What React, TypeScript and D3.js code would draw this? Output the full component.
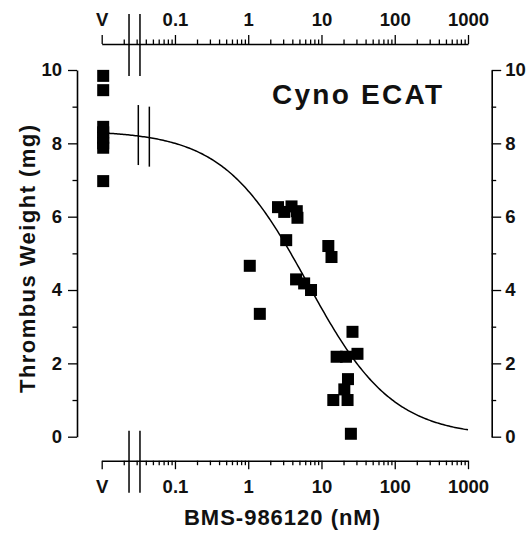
import * as d3 from 'd3';
import { useRef, useEffect } from 'react';

// vehicle group (plotted at the "V" position)
const vehicleWeights = [9.84, 9.45, 8.45, 8.3, 8.15, 8.0, 7.88, 6.97];

// treated animals: plasma concentration (nM) and thrombus weight (mg)
const doses = [2.55, 3.1, 3.9, 4.6, 4.7, 3.3, 1.05, 1.44, 4.5, 5.8, 7.2, 12.4, 13.7, 26.5, 16.1, 21.6, 31, 23, 20.5, 14.5, 22.7, 25.2];
const doseWeights = [6.26, 6.13, 6.28, 6.15, 5.97, 5.36, 4.66, 3.35, 4.29, 4.18, 4.0, 5.2, 4.9, 2.86, 2.18, 2.18, 2.26, 1.57, 1.29, 1.0, 1.0, 0.08];

const xMajorTicks = [0.01, 0.1, 1, 10, 100, 1000];
const xMajorLabels = ['V', '0.1', '1', '10', '100', '1000'];
const yMajorTicks = [0, 2, 4, 6, 8, 10];
const yMinorTicks = [1, 3, 5, 7, 9];
const vehicleDose = 0.01;
const axisBreaks = [0.0236, 0.0333];
const curveBreaks = [0.0316, 0.0447];

// four parameter logistic fit
const fitTop = 8.35;
const fitBottom = 0;
const fitIC50 = 6.5;
const fitHill = 0.75;

const width = 531;
const height = 538;
const font = '"Liberation Sans", Arial, sans-serif';

function fit(c: number) {
    return fitBottom + (fitTop - fitBottom) / (1 + Math.pow(c / fitIC50, fitHill));
}

function ThrombusChart() {
    const svgRef = useRef<SVGSVGElement>(null);

    useEffect(() => {
        const svg = d3.select(svgRef.current);
        svg.selectAll('*').remove();

        const x = d3.scaleLog().domain([0.01, 1000]).range([101.7, 468]);
        const y = d3.scaleLinear().domain([0, 10]).range([436.7, 70]);
        const xMinor = x.ticks().filter(t => !xMajorTicks.some(m => Math.abs(m - t) / m < 1e-6));

        const topY = 44;
        const bottomY = 460.7;

        const styleAxis = (g, fontSize = 18.5) => {
            g.select('.domain').attr('stroke', '#000').attr('stroke-width', 1.6);
            g.selectAll('.tick line').attr('stroke', '#000').attr('stroke-width', 1.3);
            g.selectAll('text')
                .attr('fill', '#111')
                .style('font-family', font)
                .style('font-weight', 'bold')
                .style('font-size', `${fontSize}px`);
        };

        // top x axis
        const top = svg.append('g').attr('transform', `translate(0,${topY})`);
        top.append('g')
            .call(d3.axisTop(x).tickValues(xMinor).tickSize(4.5).tickSizeOuter(0).tickFormat(() => ''))
            .call(g => g.select('.domain').remove())
            .call(styleAxis);
        top.append('g')
            .call(d3.axisTop(x).tickValues(xMajorTicks).tickSize(9).tickSizeOuter(0).tickPadding(9)
                .tickFormat((d, i) => xMajorLabels[i]))
            .call(styleAxis);

        // bottom x axis
        const bottom = svg.append('g').attr('transform', `translate(0,${bottomY})`);
        bottom.append('g')
            .call(d3.axisBottom(x).tickValues(xMinor).tickSize(4.5).tickSizeOuter(0).tickFormat(() => ''))
            .call(g => g.select('.domain').remove())
            .call(styleAxis);
        bottom.append('g')
            .call(d3.axisBottom(x).tickValues(xMajorTicks).tickSize(8.5).tickSizeOuter(0)
                .tickFormat((d, i) => xMajorLabels[i]))
            .call(styleAxis)
            .call(g => g.selectAll('text').attr('y', 32).attr('dy', null));

        // left y axis
        const left = svg.append('g').attr('transform', 'translate(77,0)');
        left.append('g')
            .call(d3.axisLeft(y).tickValues(yMinorTicks).tickSize(4.5).tickSizeOuter(0).tickFormat(() => ''))
            .call(g => g.select('.domain').remove())
            .call(styleAxis);
        left.append('g')
            .call(d3.axisLeft(y).tickValues(yMajorTicks).tickSize(9).tickSizeOuter(0).tickPadding(6))
            .call(styleAxis);

        // right y axis
        const right = svg.append('g').attr('transform', 'translate(491.7,0)');
        right.append('g')
            .call(d3.axisRight(y).tickValues(yMinorTicks).tickSize(4.5).tickSizeOuter(0).tickFormat(() => ''))
            .call(g => g.select('.domain').remove())
            .call(styleAxis);
        right.append('g')
            .call(d3.axisRight(y).tickValues(yMajorTicks).tickSize(9.5).tickSizeOuter(0).tickPadding(4))
            .call(styleAxis);

        // axis break marks
        axisBreaks.forEach(v => {
            [topY, bottomY].forEach(ay => {
                svg.append('line')
                    .attr('x1', x(v)).attr('x2', x(v))
                    .attr('y1', ay - 30).attr('y2', ay + 32)
                    .attr('stroke', '#000').attr('stroke-width', 1.5);
            });
        });

        // fitted curve
        const curveX = d3.range(-2, 3.001, 0.02).map(e => Math.pow(10, e));
        svg.append('path')
            .datum(curveX)
            .attr('fill', 'none')
            .attr('stroke', '#000')
            .attr('stroke-width', 1.5)
            .attr('d', d3.line<number>().x(d => x(d)).y(d => y(fit(d))));

        curveBreaks.forEach(v => {
            svg.append('line')
                .attr('x1', x(v)).attr('x2', x(v))
                .attr('y1', y(fit(v)) - 31).attr('y2', y(fit(v)) + 29)
                .attr('stroke', '#000').attr('stroke-width', 1.5);
        });

        // points
        const s = 12;
        svg.append('g')
            .selectAll('rect.veh')
            .data(vehicleWeights)
            .enter()
            .append('rect')
            .attr('x', x(vehicleDose) + 1.5 - s / 2)
            .attr('y', d => y(d) - s / 2)
            .attr('width', s)
            .attr('height', s)
            .attr('fill', '#000');

        svg.append('g')
            .selectAll('rect.dose')
            .data(doses)
            .enter()
            .append('rect')
            .attr('x', d => x(d) - s / 2)
            .attr('y', (d, i) => y(doseWeights[i]) - s / 2)
            .attr('width', s)
            .attr('height', s)
            .attr('fill', '#000');

        // titles
        svg.append('text')
            .attr('x', 282)
            .attr('y', 525)
            .attr('text-anchor', 'middle')
            .attr('textLength', 196)
            .attr('lengthAdjust', 'spacing')
            .attr('fill', '#111')
            .style('font-family', font)
            .style('font-weight', 'bold')
            .style('font-size', '22px')
            .text('BMS-986120 (nM)');

        svg.append('text')
            .attr('transform', 'translate(35,259) rotate(-90)')
            .attr('text-anchor', 'middle')
            .attr('textLength', 268)
            .attr('lengthAdjust', 'spacing')
            .attr('fill', '#111')
            .style('font-family', font)
            .style('font-weight', 'bold')
            .style('font-size', '22px')
            .text('Thrombus Weight (mg)');

        svg.append('text')
            .attr('x', 272)
            .attr('y', 104)
            .attr('textLength', 170)
            .attr('lengthAdjust', 'spacing')
            .attr('fill', '#111')
            .style('font-family', font)
            .style('font-weight', 'bold')
            .style('font-size', '28px')
            .text('Cyno ECAT');
    }, []);

    return (
        <svg
            ref={svgRef}
            width={width}
            height={height}
            style={{ position: 'absolute', left: 0, top: 0, background: '#fff' }}
        />
    );
}

export default function App() {
    return <ThrombusChart />;
}
